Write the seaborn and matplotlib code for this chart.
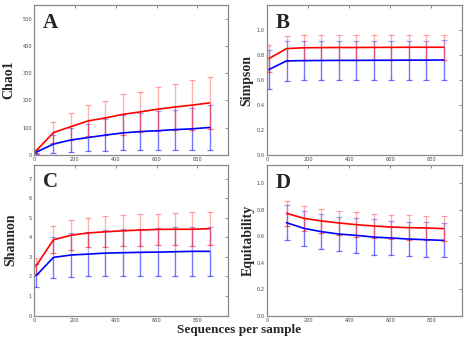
import numpy as np
import pandas as pd
import matplotlib
matplotlib.use("Agg")
import matplotlib.pyplot as plt
import seaborn as sns

# Rarefaction depths (sequences per sample)
depth = [10, 95, 180, 265, 350, 435, 520, 605, 690, 775, 860]

# Chao1
red_chao = [15, 82, 104, 125, 136, 149, 158, 168, 176, 183, 191]
red_chao_sd = [7, 38, 49, 57, 61, 74, 74, 81, 86, 91, 94]
blue_chao = [10, 40, 55, 64, 73, 81, 86, 89, 93, 96, 101]
blue_chao_sd = [5, 32, 44, 49, 58, 64, 69, 72, 73, 76, 81]

# Simpson
red_simp = [0.772, 0.851, 0.858, 0.859, 0.860, 0.860, 0.861, 0.861, 0.862, 0.862, 0.862]
red_simp_sd = [0.11, 0.10, 0.10, 0.10, 0.10, 0.10, 0.10, 0.10, 0.10, 0.10, 0.10]
blue_simp = [0.684, 0.753, 0.755, 0.756, 0.757, 0.757, 0.758, 0.758, 0.759, 0.759, 0.760]
blue_simp_sd = [0.157, 0.157, 0.157, 0.157, 0.157, 0.157, 0.157, 0.157, 0.157, 0.157, 0.157]

# Shannon
red_shan = [2.53, 3.87, 4.10, 4.22, 4.28, 4.33, 4.37, 4.40, 4.41, 4.41, 4.44]
red_shan_sd = [0.42, 0.69, 0.76, 0.74, 0.80, 0.79, 0.80, 0.80, 0.81, 0.86, 0.83]
blue_shan = [2.03, 2.97, 3.09, 3.14, 3.19, 3.21, 3.23, 3.24, 3.26, 3.28, 3.28]
blue_shan_sd = [0.59, 1.04, 1.11, 1.12, 1.17, 1.19, 1.21, 1.22, 1.24, 1.26, 1.26]

# Equitability (no value at the shallowest depth)
red_eq = [np.nan, 0.774, 0.736, 0.716, 0.701, 0.688, 0.678, 0.670, 0.665, 0.663, 0.658]
red_eq_sd = [np.nan, 0.096, 0.096, 0.093, 0.093, 0.093, 0.091, 0.089, 0.094, 0.088, 0.092]
blue_eq = [np.nan, 0.703, 0.660, 0.635, 0.617, 0.607, 0.594, 0.587, 0.579, 0.574, 0.569]
blue_eq_sd = [np.nan, 0.131, 0.134, 0.134, 0.131, 0.135, 0.136, 0.126, 0.131, 0.134, 0.129]

panels = [
    dict(letter="A", ylabel="Chao1", red=red_chao, red_sd=red_chao_sd,
         blue=blue_chao, blue_sd=blue_chao_sd, ylim=550,
         yticks=[0, 100, 200, 300, 400, 500], fmt="{:.0f}"),
    dict(letter="B", ylabel="Simpson", red=red_simp, red_sd=red_simp_sd,
         blue=blue_simp, blue_sd=blue_simp_sd, ylim=1.2,
         yticks=[0, 0.2, 0.4, 0.6, 0.8, 1.0], fmt="{:.1f}"),
    dict(letter="C", ylabel="Shannon", red=red_shan, red_sd=red_shan_sd,
         blue=blue_shan, blue_sd=blue_shan_sd, ylim=7.72,
         yticks=[0, 1, 2, 3, 4, 5, 6, 7], fmt="{:.0f}"),
    dict(letter="D", ylabel="Equitability", red=red_eq, red_sd=red_eq_sd,
         blue=blue_eq, blue_sd=blue_eq_sd, ylim=1.14,
         yticks=[0, 0.2, 0.4, 0.6, 0.8, 1.0], fmt="{:.1f}"),
]

sns.set_style("white")
plt.rcParams["font.family"] = ["DejaVu Sans"]
serif = "Liberation Serif"

fig = plt.figure(figsize=(4.71, 3.41), dpi=100)
W, H = 471.0, 341.0
boxes = [(34, 5, 228, 155), (267, 5, 462, 155),
         (34, 164.5, 228, 315.5), (267, 165, 462, 315.5)]
label_x = [-0.094, -0.07, -0.086, -0.062]

colors = {"red": "#ff0000", "blue": "#0000ff"}

for p, (l, t, r, b), lx in zip(panels, boxes, label_x):
    ax = fig.add_axes([l / W, 1 - b / H, (r - l) / W, (b - t) / H])
    x = np.array(depth, dtype=float)

    for grp in ["blue", "red"]:
        m = np.array(p[grp], dtype=float)
        s = np.array(p[grp + "_sd"], dtype=float)
        ok = ~np.isnan(m)
        zero = np.zeros(ok.sum())
        # upper half of each bar (lighter) and lower half (stronger)
        ax.errorbar(x[ok], m[ok], yerr=[zero, s[ok]], fmt="none",
                    ecolor=colors[grp], alpha=0.3, elinewidth=1.0,
                    capsize=0, zorder=2)
        ax.errorbar(x[ok], m[ok], yerr=[s[ok], zero], fmt="none",
                    ecolor=colors[grp], alpha=0.55, elinewidth=1.0,
                    capsize=0, zorder=2)
        # caps at both ends
        ax.plot(x[ok], m[ok] + s[ok], ls="none", marker="_", ms=4.5,
                mew=0.9, color=colors[grp], alpha=0.35, zorder=2)
        ax.plot(x[ok], m[ok] - s[ok], ls="none", marker="_", ms=4.5,
                mew=0.9, color=colors[grp], alpha=0.55, zorder=2)

    df = pd.DataFrame({
        "depth": depth * 2,
        "value": list(p["red"]) + list(p["blue"]),
        "group": ["red"] * len(depth) + ["blue"] * len(depth),
    }).dropna()
    sns.lineplot(data=df, x="depth", y="value", hue="group",
                 palette=colors, linewidth=1.2, legend=False, ax=ax,
                 zorder=3)

    ax.set_xlim(0, 950)
    ax.set_ylim(0, p["ylim"])
    ax.set_xticks([0, 200, 400, 600, 800])
    ax.set_xticklabels(["0", "200", "400", "600", "800"])
    ax.set_yticks(p["yticks"])
    ax.set_yticklabels([p["fmt"].format(v) for v in p["yticks"]])
    ax.set_xlabel("")
    ax.set_ylabel(p["ylabel"], fontsize=10, fontweight="bold", family=serif)
    ax.yaxis.set_label_coords(lx, 0.5)
    ax.tick_params(direction="in", length=2.5, width=0.6, color="#777777",
                   labelsize=3.6, labelcolor="#444444", pad=1.5,
                   top=True, right=True)
    for sp in ax.spines.values():
        sp.set_color("#888888")
        sp.set_linewidth(0.9)
    ax.text(0.045, 0.848, p["letter"], transform=ax.transAxes,
            fontsize=15, fontweight="bold", family=serif, va="baseline",
            ha="left")

fig.text(238.7 / W, 1 - 330 / H, "Sequences per sample", fontsize=9.5,
         fontweight="bold", family=serif, ha="center", va="center")

fig.savefig("out.png", dpi=100)
